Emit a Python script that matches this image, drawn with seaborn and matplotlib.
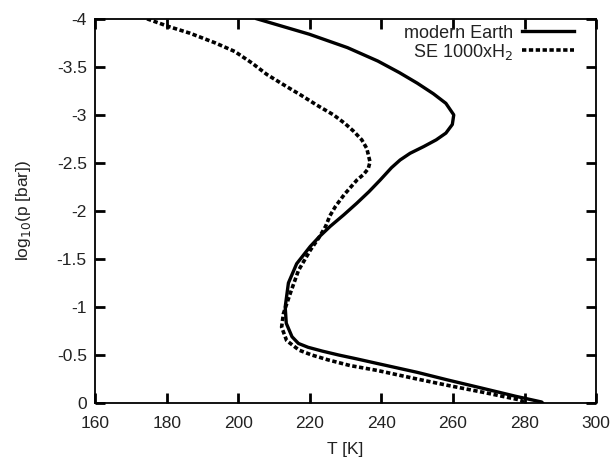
import matplotlib
matplotlib.use('Agg')
import matplotlib.pyplot as plt
import seaborn as sns

# modern Earth profile (T [K] vs log10 p)
earth_logp = [-4.0, -3.92, -3.84, -3.70, -3.56, -3.44, -3.33, -3.22, -3.12, -3.0,
              -2.90, -2.81, -2.74, -2.67, -2.60, -2.53, -2.45, -2.32, -2.20, -2.08,
              -1.96, -1.84, -1.73, -1.63, -1.45, -1.25, -1.0, -0.83, -0.69, -0.62,
              -0.58, -0.54, -0.50, -0.46, -0.41, -0.32, -0.24, -0.15, -0.07, -0.01, 0.0]
earth_T = [205.2, 212.5, 219.8, 230.5, 239.0, 245.0, 250.0, 254.5, 258.0, 260.2,
           259.8, 258.0, 255.3, 251.8, 248.0, 245.2, 242.8, 239.6, 236.5, 233.1,
           229.5, 225.7, 222.6, 220.1, 216.3, 214.0, 213.1, 213.4, 215.0, 216.8,
           219.5, 223.5, 228.0, 233.0, 239.0, 249.9, 258.5, 268.6, 277.5, 284.8, 285.0]

# SE 1000xH2 profile
se_logp = [-4.0, -3.92, -3.85, -3.75, -3.66, -3.54, -3.42, -3.31, -3.21, -3.10,
           -3.0, -2.91, -2.83, -2.74, -2.65, -2.51, -2.44, -2.38, -2.32, -2.17,
           -2.05, -1.95, -1.84, -1.72, -1.59, -1.38, -1.14, -0.93, -0.79, -0.65,
           -0.55, -0.50, -0.45, -0.39, -0.34, -0.25, -0.18, -0.11, -0.03, 0.0]
se_T = [174.5, 180.5, 186.5, 193.5, 199.0, 203.8, 208.0, 212.8, 217.3, 222.0,
        226.6, 229.8, 232.2, 234.5, 235.9, 236.8, 236.3, 235.0, 233.1, 229.6,
        227.2, 225.6, 224.4, 222.5, 220.1, 216.8, 214.5, 212.6, 212.1, 213.5,
        217.0, 220.5, 225.0, 231.2, 238.7, 249.9, 259.0, 268.6, 278.9, 280.0]

x_ticks = [160, 180, 200, 220, 240, 260, 280, 300]
y_ticks = [0, -0.5, -1, -1.5, -2, -2.5, -3, -3.5, -4]
y_labels = ['0', '-0.5', '-1', '-1.5', '-2', '-2.5', '-3', '-3.5', '-4']

plt.rcParams['font.family'] = ['Liberation Sans', 'DejaVu Sans']
plt.rcParams['axes.unicode_minus'] = False

fig, ax = plt.subplots(figsize=(6.14, 4.59), dpi=100)
fig.subplots_adjust(left=0.155, right=0.971, bottom=0.122, top=0.959)

sns.lineplot(x=earth_T, y=earth_logp, sort=False, estimator=None, ax=ax,
             color='black', linewidth=2.4, label='modern Earth')
sns.lineplot(x=se_T, y=se_logp, sort=False, estimator=None, ax=ax,
             color='black', linewidth=2.6, linestyle=(0, (1.2, 0.7)),
             label='SE 1000xH$_2$')

ax.set_xlim(160, 300)
ax.set_ylim(0, -4)
ax.set_xticks(x_ticks)
ax.set_yticks(y_ticks)
ax.set_yticklabels(y_labels)
ax.tick_params(axis='both', direction='in', length=7, width=2,
               color='#000000', top=True, right=True, labelsize=12.5,
               labelcolor='#222222')
ax.tick_params(axis='x', pad=9)
ax.tick_params(axis='y', pad=6)
for s in ax.spines.values():
    s.set_linewidth(1.3)
    s.set_color('black')

ax.set_xlabel('T [K]', fontsize=12.5, color='#222222', labelpad=8)
ax.set_ylabel('log$_{10}$(p [bar])', fontsize=12.5, color='#222222', labelpad=17)

leg = ax.legend(loc='upper right', bbox_to_anchor=(0.956, 0.985),
                frameon=False, markerfirst=False, fontsize=13,
                handlelength=2.9, handletextpad=0.5, borderpad=0,
                borderaxespad=0, labelspacing=0.0)
for t in leg.get_texts():
    t.set_color('#222222')

fig.savefig('out.png', dpi=100)
